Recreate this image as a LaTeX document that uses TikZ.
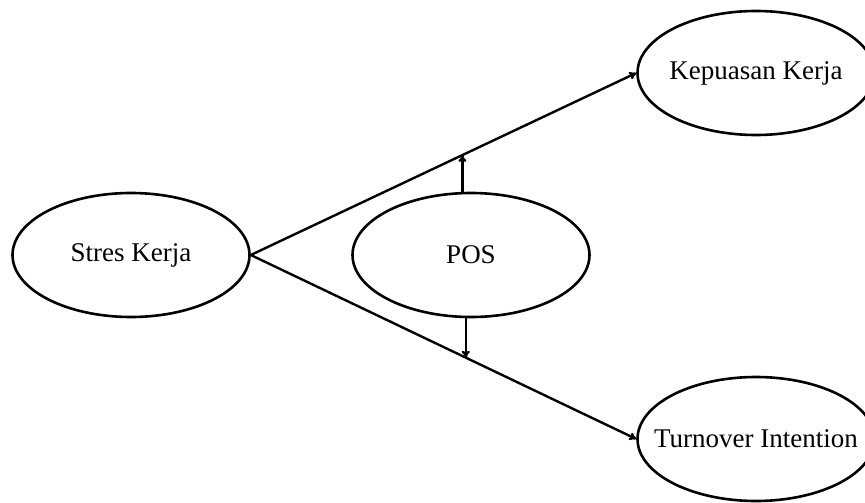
\documentclass[tikz,border=0pt]{standalone}
\usepackage{fontspec}
\setmainfont{Liberation Serif}
\usepackage{tikz}
\usetikzlibrary{positioning,arrows.meta,shapes.geometric,calc}

\begin{document}
\begin{tikzpicture}[
  x=1pt, y=-1pt,
  font=\fontsize{27}{30}\selectfont,
  construct/.style={draw=black, ellipse, minimum width=237pt, minimum height=124pt, inner sep=0pt, line width=2.6pt},
  arrow/.style={-{To[length=7pt, width=8pt]}, draw=black, line width=2.4pt}
]
\useasboundingbox (0,0) rectangle (865,503);
\clip (0,0) rectangle (865,503);
\node[construct] (stres) at (131,255) {\makebox[0pt]{Stres Kerja}};
\node[construct] (pos) at (471,255) {\makebox[0pt]{POS}};
\node[construct] (kepuasan) at (756,73) {\makebox[0pt]{Kepuasan Kerja}};
\node[construct] (turnover) at (756,439) {\makebox[0pt]{Turnover Intention}};
\coordinate (upper) at ($(stres.east)!0.549!(kepuasan.west)$);
\coordinate (lower) at ($(stres.east)!0.558!(turnover.west)$);
\draw[arrow] (stres.east) -- (kepuasan.west);
\draw[arrow] (stres.east) -- (turnover.west);
\draw[arrow] (pos.north -| upper) -- (upper);
\draw[arrow] (pos.south -| lower) -- (lower);
\end{tikzpicture}
\end{document}
